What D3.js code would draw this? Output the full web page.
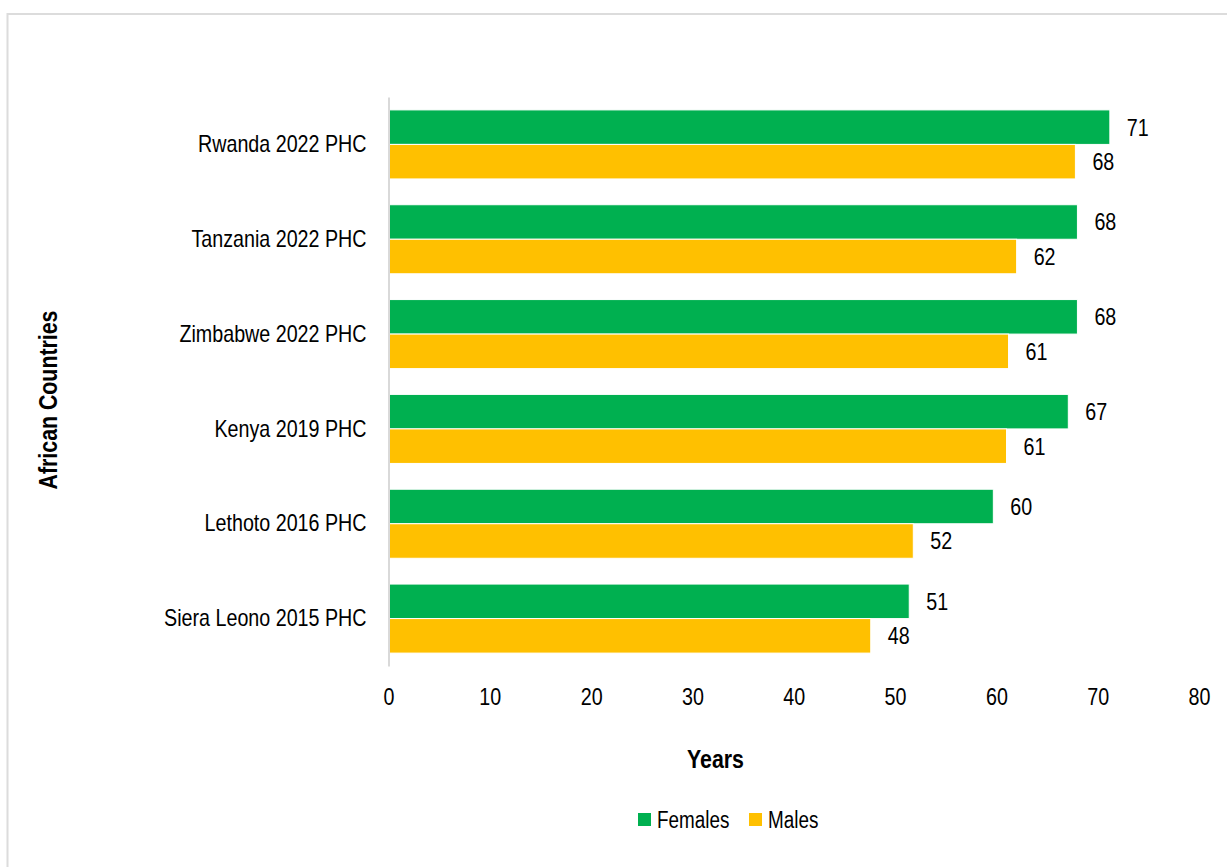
<!DOCTYPE html>
<html>
<head>
<meta charset="utf-8">
<script src="https://cdn.jsdelivr.net/npm/d3@7"></script>
<style>
  html, body { margin: 0; padding: 0; background: #fff; }
  svg text { font-family: "Liberation Sans Narrow", "Arial Narrow", "Liberation Sans", Arial, sans-serif; fill: #000; }
</style>
</head>
<body>
<svg id="chart" width="1227" height="867"></svg>
<script>
const categories = ["Rwanda 2022 PHC", "Tanzania 2022 PHC", "Zimbabwe 2022 PHC", "Kenya 2019 PHC", "Lethoto 2016 PHC", "Siera Leono 2015 PHC"];
const series = ["Females", "Males"];
const females = [71.2, 68.0, 68.0, 67.1, 59.7, 51.4];
const males = [67.8, 62.0, 61.2, 61.0, 51.8, 47.6];
const xTicks = [0, 10, 20, 30, 40, 50, 60, 70, 80];
const colors = { Females: "#00B050", Males: "#FFC000" };

const svg = d3.select("#chart");

// outer border
svg.append("rect")
  .attr("x", 7.5).attr("y", 14).attr("width", 1240).attr("height", 880)
  .attr("fill", "none").attr("stroke", "#dcdcdc").attr("stroke-width", 2);

const x = d3.scaleLinear().domain([0, 80]).range([388.5, 1199]);
const y = d3.scaleBand().domain(categories).range([97, 666]).paddingInner(0.272).paddingOuter(0.136);
const ySub = d3.scaleBand().domain(series).range([0, y.bandwidth()]);

const rows = categories.map((c, i) => ({ cat: c, values: [
  { key: "Females", value: females[i] },
  { key: "Males", value: males[i] }
]}));

// bars
const g = svg.append("g");
const groups = g.selectAll("g.cat").data(rows).join("g")
  .attr("class", "cat")
  .attr("transform", d => `translate(0,${y(d.cat)})`);

groups.selectAll("rect").data(d => d.values).join("rect")
  .attr("x", x(0))
  .attr("y", d => ySub(d.key))
  .attr("width", d => x(d.value) - x(0))
  .attr("height", ySub.bandwidth())
  .attr("fill", d => colors[d.key])
  .attr("stroke", "#fff").attr("stroke-width", 1);

groups.selectAll("text.lbl").data(d => d.values).join("text")
  .attr("class", "lbl")
  .attr("x", d => x(d.value) + 17)
  .attr("y", d => ySub(d.key) + ySub.bandwidth() / 2)
  .attr("dy", "0.35em")
  .attr("font-size", 24)
  .text(d => d3.format(".0f")(d.value));

// y axis
const yAxis = svg.append("g")
  .attr("transform", `translate(${x(0)},0)`)
  .call(d3.axisLeft(y).tickSize(0).tickPadding(22));
yAxis.select(".domain").attr("stroke", "#d9d9d9").attr("stroke-width", 2);
yAxis.selectAll("text").attr("font-size", 24).attr("fill", "#000");

// x axis
const xAxis = svg.append("g")
  .attr("transform", `translate(0,666)`)
  .call(d3.axisBottom(x).tickValues(xTicks).tickSize(0).tickPadding(22));
xAxis.select(".domain").remove();
xAxis.selectAll("text").attr("font-size", 24).attr("fill", "#000");

// axis titles
svg.append("text")
  .attr("x", 715.5).attr("y", 768)
  .attr("text-anchor", "middle")
  .attr("font-size", 26).attr("font-weight", "bold")
  .text("Years");

svg.append("text")
  .attr("transform", "translate(57,400) rotate(-90)")
  .attr("text-anchor", "middle")
  .attr("font-size", 26).attr("font-weight", "bold")
  .text("African Countries");

// legend
const legendPos = [{ key: "Females", sx: 638, tx: 657 }, { key: "Males", sx: 749, tx: 768 }];
const legend = svg.append("g");
legend.selectAll("rect").data(legendPos).join("rect")
  .attr("x", d => d.sx).attr("y", 813).attr("width", 13).attr("height", 13)
  .attr("fill", d => colors[d.key]);
legend.selectAll("text").data(legendPos).join("text")
  .attr("x", d => d.tx).attr("y", 828)
  .attr("font-size", 23)
  .text(d => d.key);

// emulate a narrow face (Arial Narrow) by condensing glyphs horizontally
svg.selectAll("text").each(function () {
  const w = this.getComputedTextLength();
  if (w > 0) {
    d3.select(this).attr("textLength", w * 0.82).attr("lengthAdjust", "spacingAndGlyphs");
  }
});
</script>
</body>
</html>
